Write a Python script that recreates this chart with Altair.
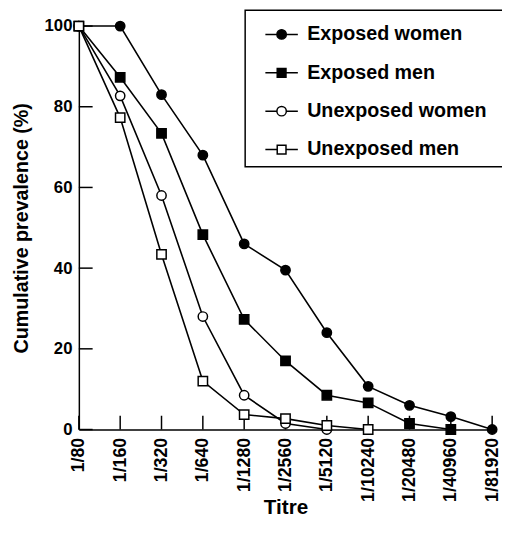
import altair as alt
import pandas as pd

# ---- data ----
titres = ["1/80", "1/160", "1/320", "1/640", "1/1280", "1/2560", "1/5120",
          "1/10240", "1/20480", "1/40960", "1/81920"]
series_names = ["Exposed women", "Exposed men", "Unexposed women", "Unexposed men"]
exposed_women = [100, 100, 83, 68, 46, 39.5, 24, 10.7, 6, 3.2, 0]
exposed_men = [100, 87.3, 73.4, 48.3, 27.3, 17, 8.5, 6.6, 1.5, 0]
unexposed_women = [100, 82.7, 58, 28, 8.5, 1.5, 0]
unexposed_men = [100, 77.3, 43.4, 12, 3.7, 2.7, 1, 0]
y_tick_values = [0, 20, 40, 60, 80, 100]

rows = []
for name, vals in zip(series_names, [exposed_women, exposed_men, unexposed_women, unexposed_men]):
    for i, v in enumerate(vals):
        rows.append({"titre": titres[i], "value": v, "series": name, "order": i})
df = pd.DataFrame(rows)

FONT = "Liberation Sans"
PAD_TEXT = chr(160) * 3 + chr(0x200B)

x_scale = alt.Scale(domain=titres, type="point", padding=0)
y_scale = alt.Scale(domain=[0, 100], nice=False, zero=True)

x_axis = alt.Axis(title="Titre", labelAngle=270, ticks=False, labelPadding=8,
                  labelFontSize=18, titleFontSize=21, titleY=68,
                  domainColor="black", domainWidth=1.5, grid=False)
y_axis = alt.Axis(title="Cumulative prevalence (%)", values=y_tick_values, ticks=False,
                  labelPadding=7, labelFontSize=17, titleFontSize=20, titlePadding=13,
                  domainColor="black", domainWidth=1.5, grid=False)

x_enc = alt.X("titre:N", scale=x_scale, sort=titres, axis=x_axis)
y_enc = alt.Y("value:Q", scale=y_scale, axis=y_axis)

# inward tick marks
ytick_df = pd.DataFrame({"value": y_tick_values})
xtick_df = pd.DataFrame({"titre": titres})
yticks = alt.Chart(ytick_df).mark_rule(color="black", strokeWidth=1.5).encode(
    y=y_enc, x=alt.value(0), x2=alt.value(14))
xticks = alt.Chart(xtick_df).mark_rule(color="black", strokeWidth=1.5).encode(
    x=x_enc, y=alt.value(410), y2=alt.value(396))

base = alt.Chart(df)
lines = base.mark_line(color="black", strokeWidth=1.6).encode(
    x=x_enc, y=y_enc, detail="series:N", order="order:Q")
points = base.mark_point(filled=True, size=90, stroke="black", strokeWidth=1.5, opacity=1).encode(
    x=x_enc, y=y_enc,
    shape=alt.condition("indexof(datum.series, 'women') >= 0", alt.value("circle"), alt.value("square")),
    fill=alt.condition("indexof(datum.series, 'Unexposed') == 0", alt.value("white"), alt.value("black")),
)

# legend glyphs: line + marker (custom paths)
circle_path = ("M-0.24,0H0.47M1.05,0H1.76"
               "M1.05,0A0.29,0.29,0,1,1,0.47,0A0.29,0.29,0,1,1,1.05,0Z")
square_path = "M-0.24,0H0.49M1.03,0H1.76M0.49,-0.27H1.03V0.27H0.49Z"

legend = alt.Legend(
    title=None, orient="none", legendX=169, legendY=-16,
    strokeColor="black", fillColor="white", padding=7,
    symbolSize=1089, symbolStrokeColor="black", symbolStrokeWidth=1.5,
    rowPadding=11, labelOffset=21, labelFontSize=20, labelFont=FONT,
    labelFontWeight="bold", labelColor="black", labelLimit=500,
    labelExpr="datum.label + '" + PAD_TEXT + "'",
)
legend_layer = alt.Chart(alt.Data(values=[])).mark_point(
    filled=True, size=1089, stroke="black", strokeWidth=1.5, opacity=1).encode(
    shape=alt.Shape("series:N", scale=alt.Scale(domain=series_names,
                    range=[circle_path, square_path, circle_path, square_path]), legend=legend),
    fill=alt.Fill("series:N", scale=alt.Scale(domain=series_names,
                  range=["black", "black", "white", "white"]), legend=legend),
    stroke=alt.Stroke("series:N", scale=alt.Scale(domain=series_names,
                      range=["black", "black", "black", "black"]), legend=legend),
)

chart = alt.layer(yticks, xticks, lines, points, legend_layer).properties(
    width=420, height=410, autosize="none",
    padding={"left": 72, "top": 14, "right": 10, "bottom": 113},
    background="white",
).configure_view(stroke=None).configure_axis(
    labelFont=FONT, titleFont=FONT, labelFontWeight="bold", titleFontWeight="bold",
    labelColor="black", titleColor="black",
).configure_legend(strokeWidth=1.5)

chart.save("out.html", embed_options={"renderer": "svg", "actions": False})
